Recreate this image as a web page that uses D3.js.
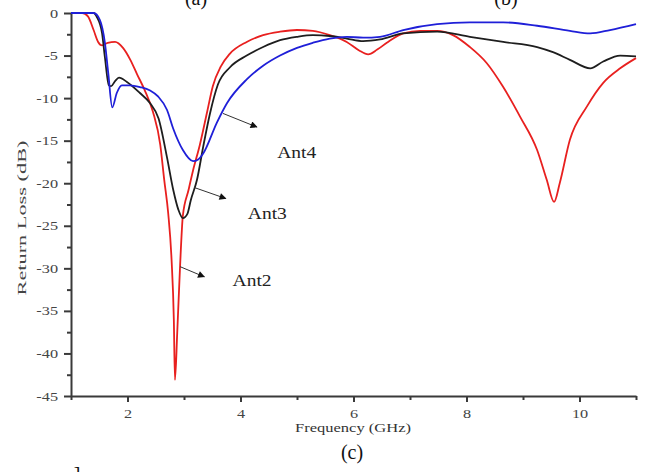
<!DOCTYPE html>
<html>
<head>
<meta charset="utf-8">
<script src="https://cdn.jsdelivr.net/npm/d3@7"></script>
<style>
  body { margin: 0; background: #fff; }
  svg { display: block; }
  text { font-family: "Liberation Serif", "Times New Roman", serif; fill: #333; }
  .axis path, .axis line { stroke: #3a3a3a; stroke-width: 2; }
  .axis text { font-size: 12.5px; fill: #444; }
  .curve { fill: none; stroke-width: 1.8; }
</style>
</head>
<body>
<svg id="canvas" width="648" height="472"></svg>
<script>
// ************************************************************************************** //
// Data

var ant2_freq = [1.0, 1.2, 1.3, 1.4, 1.48, 1.55, 1.65, 1.78, 1.92, 2.05, 2.17, 2.3, 2.45, 2.58, 2.65, 2.72, 2.78, 2.82, 2.84, 2.88, 2.93, 2.98, 3.08, 3.16, 3.28, 3.41, 3.51, 3.65, 3.81, 4.11, 4.4, 4.7, 5.0, 5.28, 5.58, 5.88, 6.1, 6.26, 6.42, 6.59, 6.88, 7.18, 7.48, 7.76, 8.06, 8.36, 8.65, 8.95, 9.25, 9.42, 9.55, 9.65, 9.83, 10.13, 10.42, 10.72, 11.0];
var ant2_loss = [0, 0, -0.4, -2.0, -3.4, -3.8, -3.5, -3.4, -4.1, -5.5, -7.2, -9.0, -11.6, -15.5, -19.6, -23.5, -29, -36, -43.1, -37.6, -29.8, -23.8, -20.8, -18.5, -15.5, -11.6, -8.6, -6.3, -4.8, -3.4, -2.6, -2.2, -2.0, -2.1, -2.6, -3.4, -4.4, -4.85, -4.3, -3.5, -2.4, -2.1, -2.1, -2.6, -4.0, -5.9, -8.7, -12.2, -16.1, -19.6, -22.2, -20, -14.9, -11, -8.2, -6.5, -5.3];

var ant3_freq = [1.0, 1.4, 1.46, 1.55, 1.6, 1.67, 1.71, 1.78, 1.85, 1.99, 2.22, 2.4, 2.55, 2.7, 2.81, 2.9, 2.98, 3.06, 3.12, 3.23, 3.34, 3.46, 3.6, 3.81, 4.11, 4.4, 4.7, 5.0, 5.28, 5.58, 5.88, 6.17, 6.47, 6.88, 7.48, 8.06, 8.65, 9.25, 9.53, 9.83, 10.19, 10.42, 10.72, 11.0];
var ant3_loss = [0, 0, -0.5, -2.4, -5.2, -8.5, -8.6, -8.0, -7.6, -8.1, -9.4, -10.6, -12.4, -17.0, -20.8, -23.1, -24.1, -23.6, -22.0, -19.6, -15.7, -11.8, -8.4, -6.4, -5.0, -4.0, -3.2, -2.8, -2.6, -2.7, -3.0, -3.3, -3.1, -2.4, -2.2, -2.8, -3.4, -4.0, -4.6, -5.5, -6.5, -5.7, -5.0, -5.1];

var ant4_freq = [1.0, 1.4, 1.51, 1.6, 1.66, 1.73, 1.81, 1.9, 2.04, 2.22, 2.4, 2.54, 2.7, 2.81, 2.98, 3.16, 3.25, 3.34, 3.58, 3.76, 4.11, 4.4, 4.7, 5.0, 5.28, 5.58, 5.88, 6.17, 6.47, 6.88, 7.48, 8.06, 8.65, 9.25, 9.83, 10.19, 10.54, 11.0];
var ant4_loss = [0, 0, -0.8, -3.5, -7.1, -11.1, -9.4, -8.5, -8.5, -8.7, -9.1, -9.8, -11.4, -13.6, -16.1, -17.4, -17.2, -16.5, -12.9, -10.6, -7.8, -6.2, -5.0, -4.1, -3.5, -3.0, -2.8, -2.9, -2.8, -2.0, -1.3, -1.1, -1.1, -1.5, -2.1, -2.4, -2.0, -1.3];

var x_major = [2, 4, 6, 8, 10];
var x_minor = [1, 3, 5, 7, 9, 11];
var y_major = [0, -5, -10, -15, -20, -25, -30, -35, -40, -45];
var y_minor = [-2.5, -7.5, -12.5, -17.5, -22.5, -27.5, -32.5, -37.5, -42.5];

var series_names = ['Ant2', 'Ant3', 'Ant4'];
var series_colors = ['#e8201f', '#1e1e1e', '#1f1fd8'];

// ************************************************************************************** //
// Scales and axes

var svg = d3.select('#canvas');
var x = d3.scaleLinear().domain([1, 11]).range([71, 636]);
var y = d3.scaleLinear().domain([-45, 0]).range([396, 13]);

var x_axis = svg.append('g').attr('class', 'axis').attr('transform', 'translate(0,' + y(-45) + ')')
  .call(d3.axisBottom(x).tickValues(x_major).tickSize(6).tickSizeOuter(0).tickPadding(7));
x_axis.selectAll('text').attr('transform', 'scale(1.3,1)');
svg.append('g').attr('class', 'axis').attr('transform', 'translate(0,' + y(-45) + ')')
  .call(d3.axisBottom(x).tickValues(x_minor).tickSize(4).tickFormat(''))
  .select('.domain').remove();

// plain hyphen for negative labels, as in the picture
var y_axis = svg.append('g').attr('class', 'axis').attr('transform', 'translate(' + x(1) + ',0)')
  .call(d3.axisLeft(y).tickValues(y_major).tickSize(7).tickSizeOuter(0).tickPadding(3)
    .tickFormat(function(d){ return String(d); }));
y_axis.selectAll('text').attr('transform', 'scale(1.3,1)');
svg.append('g').attr('class', 'axis').attr('transform', 'translate(' + x(1) + ',0)')
  .call(d3.axisLeft(y).tickValues(y_minor).tickSize(4).tickFormat(''))
  .select('.domain').remove();

// ************************************************************************************** //
// Curves

var line = d3.line().x(function(d){ return x(d[0]); }).y(function(d){ return y(d[1]); })
  .curve(d3.curveMonotoneX);
var freqs = [ant2_freq, ant3_freq, ant4_freq];
var losses = [ant2_loss, ant3_loss, ant4_loss];

for(var i = 0; i < 3; i++){
  var pts = d3.zip(freqs[i], losses[i]);
  svg.append('path').datum(pts).attr('class', 'curve').attr('d', line).style('stroke', series_colors[i]);
}

// ************************************************************************************** //
// Annotations with arrows

svg.append('defs').append('marker').attr('id', 'arrow').attr('viewBox', '0 0 10 10')
  .attr('refX', 9).attr('refY', 5).attr('markerWidth', 9).attr('markerHeight', 7)
  .attr('markerUnits', 'userSpaceOnUse').attr('orient', 'auto')
  .append('path').attr('d', 'M0,0 L10,5 L0,10 z').style('fill', '#111');

// arrow starts sit on the curve they point from
var arrow_from = [[2.93, -29.8], [3.18, -20.5], [3.69, -11.8]];
var arrow_to = [[3.36, -31.0], [3.74, -21.8], [4.29, -13.4]];
var label_at = [[3.86, -32.1], [4.13, -24.2], [4.65, -17.0]];

for(var i = 0; i < 3; i++){
  svg.append('line').attr('x1', x(arrow_from[i][0])).attr('y1', y(arrow_from[i][1]))
    .attr('x2', x(arrow_to[i][0])).attr('y2', y(arrow_to[i][1]))
    .style('stroke', '#333').style('stroke-width', 1).attr('marker-end', 'url(#arrow)');
  svg.append('text').attr('x', x(label_at[i][0])).attr('y', y(label_at[i][1]))
    .attr('textLength', 39).attr('lengthAdjust', 'spacingAndGlyphs')
    .style('font-size', '16px').style('fill', '#222').text(series_names[i]);
}

// ************************************************************************************** //
// Titles and panel labels

svg.append('text').attr('x', 353).attr('y', 432).attr('text-anchor', 'middle')
  .attr('textLength', 116).attr('lengthAdjust', 'spacingAndGlyphs')
  .style('font-size', '13px').text('Frequency (GHz)');

svg.append('text').attr('transform', 'translate(26,' + 218 + ') rotate(-90)').attr('text-anchor', 'middle')
  .attr('textLength', 155).attr('lengthAdjust', 'spacingAndGlyphs')
  .style('font-size', '13px').style('fill', '#444').text('Return Loss (dB)');

svg.append('text').attr('x', 352).attr('y', 459).attr('text-anchor', 'middle')
  .style('font-size', '20px').style('fill', '#111').text('(c)');
svg.append('text').attr('x', 196).attr('y', 5).attr('text-anchor', 'middle')
  .style('font-size', '20px').style('fill', '#111').text('(a)');
svg.append('text').attr('x', 506).attr('y', 5).attr('text-anchor', 'middle')
  .style('font-size', '20px').style('fill', '#111').text('(b)');
svg.append('text').attr('x', 77).attr('y', 481).attr('text-anchor', 'middle')
  .style('font-size', '20px').style('fill', '#111').text(']');
</script>
</body>
</html>
